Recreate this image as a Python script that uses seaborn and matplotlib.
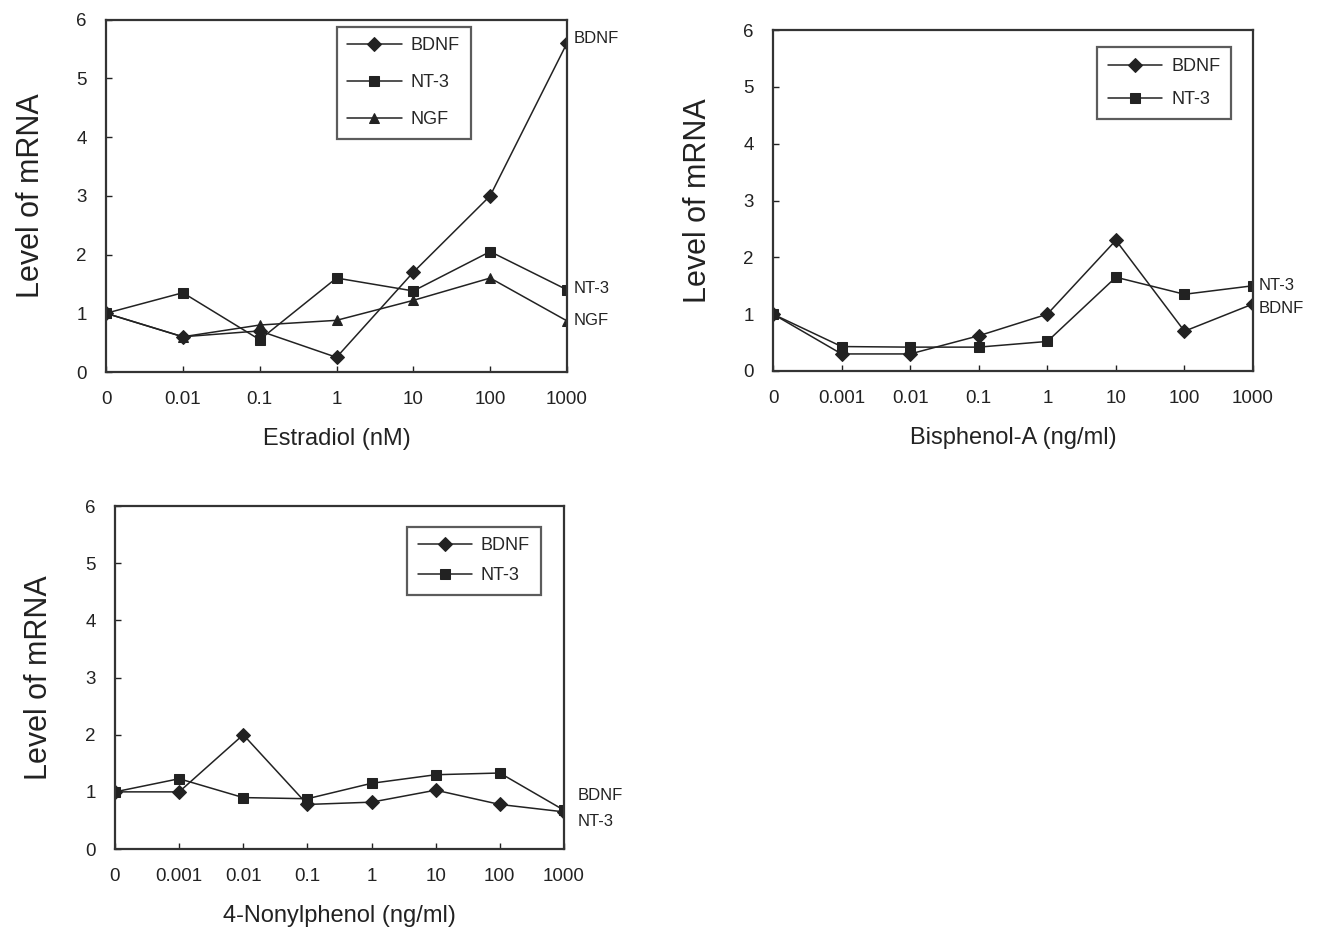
import numpy as np
import pandas as pd
import matplotlib
matplotlib.use("Agg")
import matplotlib.pyplot as plt
import seaborn as sns

# data
conc_e2 = ['0', '0.01', '0.1', '1', '10', '100', '1000']
bdnf_e2 = [1.0, 0.6, 0.7, 0.25, 1.7, 3.0, 5.6]
nt3_e2 = [1.0, 1.35, 0.55, 1.6, 1.38, 2.05, 1.4]
ngf_e2 = [1.0, 0.6, 0.8, 0.88, 1.22, 1.6, 0.87]

conc_bpa = ['0', '0.001', '0.01', '0.1', '1', '10', '100', '1000']
bdnf_bpa = [1.0, 0.3, 0.3, 0.62, 1.0, 2.3, 0.7, 1.18]
nt3_bpa = [1.0, 0.43, 0.42, 0.42, 0.52, 1.65, 1.35, 1.5]

conc_np = ['0', '0.001', '0.01', '0.1', '1', '10', '100', '1000']
bdnf_np = [1.0, 1.0, 2.0, 0.78, 0.82, 1.03, 0.78, 0.65]
nt3_np = [1.0, 1.23, 0.9, 0.88, 1.15, 1.3, 1.33, 0.68]

sns.set_theme(style="white")
plt.rcParams['font.family'] = ['Liberation Sans', 'DejaVu Sans']

INK = '#222222'
markers = {'BDNF': 'D', 'NT-3': 's', 'NGF': '^'}


def panel(ax, conc, series, xlabel, legend_box, spacing, labels_off):
    rows = []
    for name, vals in series.items():
        for i, v in enumerate(vals):
            rows.append({'x': i, 'level': v, 'gene': name})
    df = pd.DataFrame(rows)
    names = list(series.keys())
    sns.lineplot(data=df, x='x', y='level', hue='gene', style='gene',
                 markers={n: markers[n] for n in names}, dashes=False,
                 palette={n: INK for n in names}, linewidth=1.1,
                 markersize=7, markeredgecolor=INK, ax=ax)
    ax.set_xlim(0, len(conc) - 1)
    ax.set_ylim(0, 6)
    ax.set_xticks(range(len(conc)))
    ax.set_xticklabels(conc)
    ax.set_yticks(range(7))
    ax.tick_params(direction='in', length=4, width=1, colors=INK,
                   labelsize=13.5, pad=14, left=True, bottom=True)
    ax.set_xlabel(xlabel, fontsize=17, color=INK, labelpad=14)
    ax.set_ylabel('Level of mRNA', fontsize=22, color=INK, labelpad=22)
    for sp in ax.spines.values():
        sp.set_color('#333333')
        sp.set_linewidth(1.6)
    leg = ax.legend(loc='upper left', bbox_to_anchor=legend_box, fontsize=13,
                    frameon=True, fancybox=False, labelspacing=spacing,
                    handlelength=3.0, handletextpad=0.5, borderpad=0.6,
                    borderaxespad=0)
    leg.get_frame().set_edgecolor('#333333')
    leg.get_frame().set_linewidth(1.6)
    last = len(conc) - 1
    for name, vals in series.items():
        dx, dy = labels_off[name]
        ax.annotate(name, xy=(last, vals[-1]), xytext=(dx, dy),
                    textcoords='offset points', fontsize=12, color=INK,
                    va='center', ha='left', annotation_clip=False)


fig = plt.figure(figsize=(13.37, 9.44), dpi=100)
ax1 = fig.add_axes([0.0793, 0.6059, 0.3448, 0.3734])
ax2 = fig.add_axes([0.5782, 0.607, 0.359, 0.3612])
ax3 = fig.add_axes([0.086, 0.1006, 0.3358, 0.3633])

panel(ax1, conc_e2, {'BDNF': bdnf_e2, 'NT-3': nt3_e2, 'NGF': ngf_e2},
      'Estradiol (nM)', (0.50, 0.98), 1.1,
      {'BDNF': (5, 3), 'NT-3': (5, 1), 'NGF': (5, 0)})
panel(ax2, conc_bpa, {'BDNF': bdnf_bpa, 'NT-3': nt3_bpa},
      'Bisphenol-A (ng/ml)', (0.675, 0.95), 0.9,
      {'BDNF': (4, -3), 'NT-3': (4, 0)})
panel(ax3, conc_np, {'BDNF': bdnf_np, 'NT-3': nt3_np},
      '4-Nonylphenol (ng/ml)', (0.65, 0.94), 0.7,
      {'BDNF': (10, 12), 'NT-3': (10, -8)})

fig.savefig('out.png', dpi=100, facecolor='white')
